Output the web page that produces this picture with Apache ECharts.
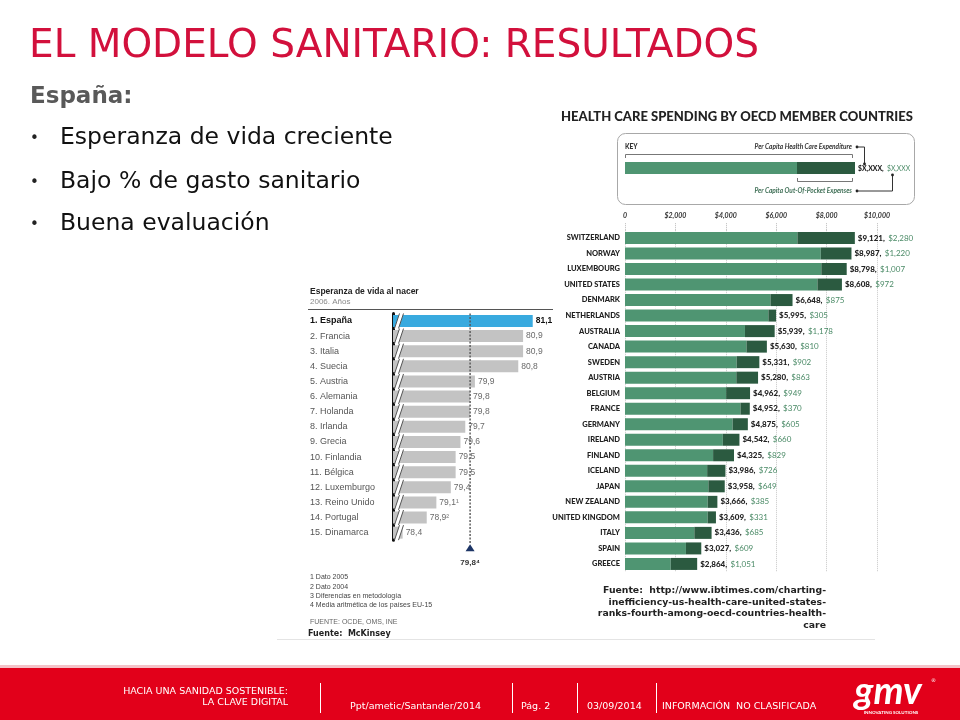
<!DOCTYPE html>
<html><head><meta charset="utf-8">
<script src="https://cdn.jsdelivr.net/npm/echarts@6/dist/echarts.min.js"></script>
<style>html,body{margin:0;padding:0;background:#fff}#c{width:960px;height:720px}</style>
</head><body><div id="c"></div>
<script>
// ---- Esperanza de vida al nacer (2006) ----
const paises = ['1. España','2. Francia','3. Italia','4. Suecia','5. Austria','6. Alemania','7. Holanda','8. Irlanda','9. Grecia','10. Finlandia','11. Bélgica','12. Luxemburgo','13. Reino Unido','14. Portugal','15. Dinamarca'];
const vida = [81.1,80.9,80.9,80.8,79.9,79.8,79.8,79.7,79.6,79.5,79.5,79.4,79.1,78.9,78.4];
const vidaEtiquetas = ['81,1','80,9','80,9','80,8','79,9','79,8','79,8','79,7','79,6','79,5','79,5','79,4','79,1¹','78,9²','78,4'];
const mediaUE = 79.8;
const mediaEtiqueta = '79,8⁴';
const notas = ['1 Dato 2005','2 Dato 2004','3 Diferencias en metodología','4 Media aritmética de los países EU-15'];

// ---- Health care spending by OECD member countries ----
const countries = ['SWITZERLAND','NORWAY','LUXEMBOURG','UNITED STATES','DENMARK','NETHERLANDS','AUSTRALIA','CANADA','SWEDEN','AUSTRIA','BELGIUM','FRANCE','GERMANY','IRELAND','FINLAND','ICELAND','JAPAN','NEW ZEALAND','UNITED KINGDOM','ITALY','SPAIN','GREECE'];
const totals = [9121,8987,8798,8608,6648,5995,5939,5630,5331,5280,4962,4952,4875,4542,4325,3986,3958,3666,3609,3436,3027,2864];
const outOfPocket = [2280,1220,1007,972,875,305,1178,810,902,863,949,370,605,660,829,726,649,385,331,685,609,1051];
const spendTickLabels = {0:'0',2000:'$2,000',4000:'$4,000',6000:'$6,000',8000:'$8,000',10000:'$10,000'};

const money = n => '$' + n.toLocaleString('en-US');
const publicPart = totals.map((t, i) => t - outOfPocket[i]);

const LIGHT = '#4f9572', DARK = '#2b5a40', OOPTXT = '#4a8a66';
const RED = '#e2001a';

function T(text, x, y, o) {
  o = o || {};
  return { type: 'text', silent: true, z: 10, style: {
    text: text, x: x, y: y,
    fill: o.fill || '#222', fontSize: o.size || 10, fontFamily: o.family || 'DejaVu Sans',
    fontWeight: o.weight || 'normal', fontStyle: o.style || 'normal',
    textAlign: o.align || 'left', textVerticalAlign: 'middle'
  }};
}
function L(x1, y1, x2, y2, color, w, dash) {
  return { type: 'line', silent: true, z: 10, shape: {x1, y1, x2, y2},
    style: {stroke: color, lineWidth: w || 1, lineDash: dash || null}};
}

const graphics = [
  // Slide text
  T('EL MODELO SANITARIO: RESULTADOS', 29, 47, {size: 39, fill: '#d2103c'}),
  T('España:', 30, 97, {size: 23, weight: 'bold', fill: '#595959'}),
  T('•', 30, 139, {size: 15, fill: '#222'}),
  T('Esperanza de vida creciente', 60, 138, {size: 23.5, fill: '#111'}),
  T('•', 30, 183, {size: 15, fill: '#222'}),
  T('Bajo % de gasto sanitario', 60, 182, {size: 23.5, fill: '#111'}),
  T('•', 30, 225, {size: 15, fill: '#222'}),
  T('Buena evaluación', 60, 224, {size: 23.5, fill: '#111'}),

  // Left chart header
  T('Esperanza de vida al nacer', 310, 292, {size: 8.5, weight: 'bold', family: 'Liberation Sans', fill: '#222'}),
  T('2006. Años', 310, 302, {size: 8, family: 'Liberation Sans', fill: '#8a8a8a'}),
  L(308, 309.5, 553, 309.5, '#555', 1),
  T('FUENTE: OCDE, OMS, INE', 310, 622, {size: 7, family: 'Liberation Sans', fill: '#666'}),
  T('Fuente:  McKinsey', 308, 634, {size: 8, weight: 'bold', fill: '#222'}),
  L(277, 639.5, 875, 639.5, '#e4e4e4', 1),

  // Right chart header + key
  T('HEALTH CARE SPENDING BY OECD MEMBER COUNTRIES', 561, 117, {size: 13, weight: 900, family: 'Lato', fill: '#222'}),
  { type: 'rect', silent: true, z: 9, shape: {x: 617.5, y: 133.5, width: 297, height: 71, r: 8},
    style: {fill: 'none', stroke: '#a8a8a8', lineWidth: 1}},
  T('KEY', 625, 147, {size: 6.5, weight: 900, family: 'Lato', fill: '#333'}),
  T('Per Capita Health Care Expenditure', 852, 147, {size: 6.5, weight: 'bold', style: 'italic', family: 'Lato', fill: '#333', align: 'right'}),
  L(625.5, 154.5, 852.5, 154.5, '#777', 1), L(625.5, 154.5, 625.5, 158, '#777', 1), L(852.5, 154.5, 852.5, 158, '#777', 1),
  { type: 'rect', silent: true, z: 10, shape: {x: 625, y: 162, width: 172, height: 12}, style: {fill: LIGHT}},
  { type: 'rect', silent: true, z: 10, shape: {x: 797, y: 162, width: 58, height: 12}, style: {fill: DARK}},
  { type: 'text', silent: true, z: 10, style: {x: 858, y: 169, textVerticalAlign: 'middle',
      text: '{a|$X,XXX,} {b|$X,XXX}',
      rich: {a: {fontSize: 6.8, fontWeight: 900, fontFamily: 'Lato', fill: '#222'},
             b: {fontSize: 6.8, fontFamily: 'Lato', fill: OOPTXT}}}},
  L(797.5, 181.5, 852.5, 181.5, '#777', 1), L(797.5, 178, 797.5, 181.5, '#777', 1), L(852.5, 178, 852.5, 181.5, '#777', 1),
  T('Per Capita Out-Of-Pocket Expenses', 852, 191, {size: 6.5, weight: 'bold', style: 'italic', family: 'Lato', fill: '#3f6f56', align: 'right'}),
  // connectors
  { type: 'circle', silent: true, z: 10, shape: {cx: 857, cy: 147, r: 1.4}, style: {fill: '#222'}},
  L(857, 147, 864.5, 147, '#333', 1), L(864.5, 147, 864.5, 163, '#333', 1),
  { type: 'circle', silent: true, z: 10, shape: {cx: 864.5, cy: 164, r: 1.4}, style: {fill: '#222'}},
  { type: 'circle', silent: true, z: 10, shape: {cx: 857, cy: 191, r: 1.4}, style: {fill: '#222'}},
  L(857, 191, 892.5, 191, '#333', 1), L(892.5, 191, 892.5, 176, '#333', 1),
  { type: 'circle', silent: true, z: 10, shape: {cx: 892.5, cy: 175, r: 1.4}, style: {fill: '#222'}},

  // Right source
  T('Fuente:  http://www.ibtimes.com/charting-', 826, 591, {size: 9.3, weight: 'bold', align: 'right'}),
  T('inefficiency-us-health-care-united-states-', 826, 603, {size: 9.3, weight: 'bold', align: 'right'}),
  T('ranks-fourth-among-oecd-countries-health-', 826, 614, {size: 9.3, weight: 'bold', align: 'right'}),
  T('care', 826, 626, {size: 9.3, weight: 'bold', align: 'right'}),

  // Footer
  { type: 'rect', silent: true, z: 8, shape: {x: 0, y: 665, width: 960, height: 3}, style: {fill: '#f4c2c8'}},
  { type: 'rect', silent: true, z: 8, shape: {x: 0, y: 668, width: 960, height: 52}, style: {fill: RED}},
  T('HACIA UNA SANIDAD SOSTENIBLE:', 288, 692, {size: 9.5, fill: '#fff', align: 'right'}),
  T('LA CLAVE DIGITAL', 288, 703, {size: 9.5, fill: '#fff', align: 'right'}),
  L(320.5, 683, 320.5, 713, '#fff', 1),
  T('Ppt/ametic/Santander/2014', 350, 707, {size: 9.5, fill: '#fff'}),
  L(512.5, 683, 512.5, 713, '#fff', 1),
  T('Pág. 2', 521, 707, {size: 9.5, fill: '#fff'}),
  L(577.5, 683, 577.5, 713, '#fff', 1),
  T('03/09/2014', 587, 707, {size: 9.5, fill: '#fff'}),
  L(656.5, 683, 656.5, 713, '#fff', 1),
  T('INFORMACIÓN  NO CLASIFICADA', 662, 707, {size: 9.5, fill: '#fff'}),
  T('gmv', 888, 692, {size: 38, weight: 'bold', style: 'italic', family: 'Lato', fill: '#fff', align: 'center'}),
  T('®', 931, 681, {size: 5, fill: '#fff'}),
  T('INNOVATING SOLUTIONS', 891, 713, {size: 4.5, weight: 'bold', family: 'Lato', fill: '#fff', align: 'center'})
];
notas.forEach((n, i) => graphics.push(T(n, 310, [577, 587, 596, 605][i], {size: 7, family: 'Liberation Sans', fill: '#444'})));

const chart = echarts.init(document.getElementById('c'), null, {renderer: 'canvas'});
chart.setOption({
  backgroundColor: '#fff',
  animation: false,
  grid: [
    {left: 393, top: 313.4, width: 159, height: 226.8},
    {left: 625, top: 230.2, width: 252, height: 341.5}
  ],
  xAxis: [
    {type: 'value', gridIndex: 0, min: 78.2, max: 81.5, show: false},
    {type: 'value', gridIndex: 1, min: 0, max: 10000, interval: 2000, position: 'top',
     axisLine: {show: false},
     axisTick: {show: true, length: 8, lineStyle: {color: '#bbb', type: 'dotted'}},
     axisLabel: {margin: 11, fontSize: 7, fontWeight: 'bold', fontStyle: 'italic', fontFamily: 'Lato', color: '#333',
                 formatter: v => spendTickLabels[v]},
     splitLine: {show: true, lineStyle: {color: '#c8c8c8', type: 'dotted'}}}
  ],
  yAxis: [
    {type: 'category', gridIndex: 0, inverse: true, data: paises,
     axisLine: {show: true, lineStyle: {color: '#111', width: 3}},
     axisTick: {show: false},
     axisLabel: {align: 'left', margin: 83, fontSize: 9, fontFamily: 'Liberation Sans',
       formatter: (v, i) => i === 0 ? '{b|' + v + '}' : '{n|' + v + '}',
       rich: {b: {fontSize: 9, fontWeight: 'bold', color: '#111', fontFamily: 'Liberation Sans'},
              n: {fontSize: 9, color: '#555', fontFamily: 'Liberation Sans'}}}},
    {type: 'category', gridIndex: 1, inverse: true, data: countries,
     axisLine: {show: false}, axisTick: {show: false},
     axisLabel: {margin: 5, fontSize: 7.5, fontWeight: 900, fontFamily: 'Lato', color: '#222'}}
  ],
  series: [
    {type: 'bar', xAxisIndex: 0, yAxisIndex: 0, data: vida, barWidth: 12,
     itemStyle: {color: p => p.dataIndex === 0 ? '#39aadf' : '#c3c3c3'},
     label: {show: true, position: 'right', distance: 3,
       formatter: p => p.dataIndex === 0 ? '{b|' + vidaEtiquetas[p.dataIndex] + '}' : '{n|' + vidaEtiquetas[p.dataIndex] + '}',
       rich: {b: {fontSize: 8.5, fontWeight: 'bold', color: '#111', fontFamily: 'Liberation Sans'},
              n: {fontSize: 8.5, color: '#6a6a6a', fontFamily: 'Liberation Sans'}}}},
    // axis-break hatch at the start of each bar
    {type: 'custom', xAxisIndex: 0, yAxisIndex: 0, z: 5, clip: false,
     data: paises.map((p, i) => [78.2, i]),
     renderItem: (params, api) => {
       const c = api.coord([api.value(0), api.value(1)]);
       const x0 = c[0] + 1.5, y = c[1];
       const pts = [[x0, y + 7.5], [x0 + 5, y - 7.5], [x0 + 9, y - 7.5], [x0 + 4, y + 7.5]];
       return {type: 'group', children: [
         {type: 'polygon', shape: {points: pts}, style: {fill: '#fff'}},
         {type: 'line', shape: {x1: x0, y1: y + 7.5, x2: x0 + 5, y2: y - 7.5}, style: {stroke: '#555', lineWidth: 1}},
         {type: 'line', shape: {x1: x0 + 4, y1: y + 7.5, x2: x0 + 9, y2: y - 7.5}, style: {stroke: '#555', lineWidth: 1}}
       ]};
     }},
    // EU-15 mean marker
    {type: 'custom', xAxisIndex: 0, yAxisIndex: 0, z: 6, clip: false,
     data: [[mediaUE, 0]],
     renderItem: (params, api) => {
       const band = api.size([0, 1])[1];
       const top = api.coord([api.value(0), 0]);
       const last = api.coord([api.value(0), paises.length - 1]);
       const x = top[0], y0 = top[1] - band / 2, yb = last[1] + band / 2;
       const ty = yb + 8;
       return {type: 'group', children: [
         {type: 'line', shape: {x1: x, y1: y0, x2: x, y2: ty - 4}, style: {stroke: '#555', lineWidth: 1.4, lineDash: [2, 1.5]}},
         {type: 'polygon', shape: {points: [[x, ty - 4], [x + 4.5, ty + 3], [x - 4.5, ty + 3]]}, style: {fill: '#1d3566'}},
         {type: 'text', style: {text: mediaEtiqueta, x: x, y: ty + 15, textAlign: 'center', textVerticalAlign: 'middle',
           fontSize: 8, fontWeight: 'bold', fontFamily: 'Liberation Sans', fill: '#333'}}
       ]};
     }},
    // spending bars
    {type: 'bar', xAxisIndex: 1, yAxisIndex: 1, stack: 'gasto', data: publicPart, barWidth: 12,
     itemStyle: {color: LIGHT}},
    {type: 'bar', xAxisIndex: 1, yAxisIndex: 1, stack: 'gasto', data: outOfPocket, barWidth: 12,
     itemStyle: {color: DARK},
     label: {show: true, position: 'right', distance: 3,
       formatter: p => '{t|' + money(totals[p.dataIndex]) + ',} {o|' + money(outOfPocket[p.dataIndex]) + '}',
       rich: {t: {fontSize: 8, fontWeight: 900, fontFamily: 'Lato', color: '#222'},
              o: {fontSize: 8, fontFamily: 'Lato', color: OOPTXT}}}}
  ],
  graphic: graphics
});
</script>
</body></html>
